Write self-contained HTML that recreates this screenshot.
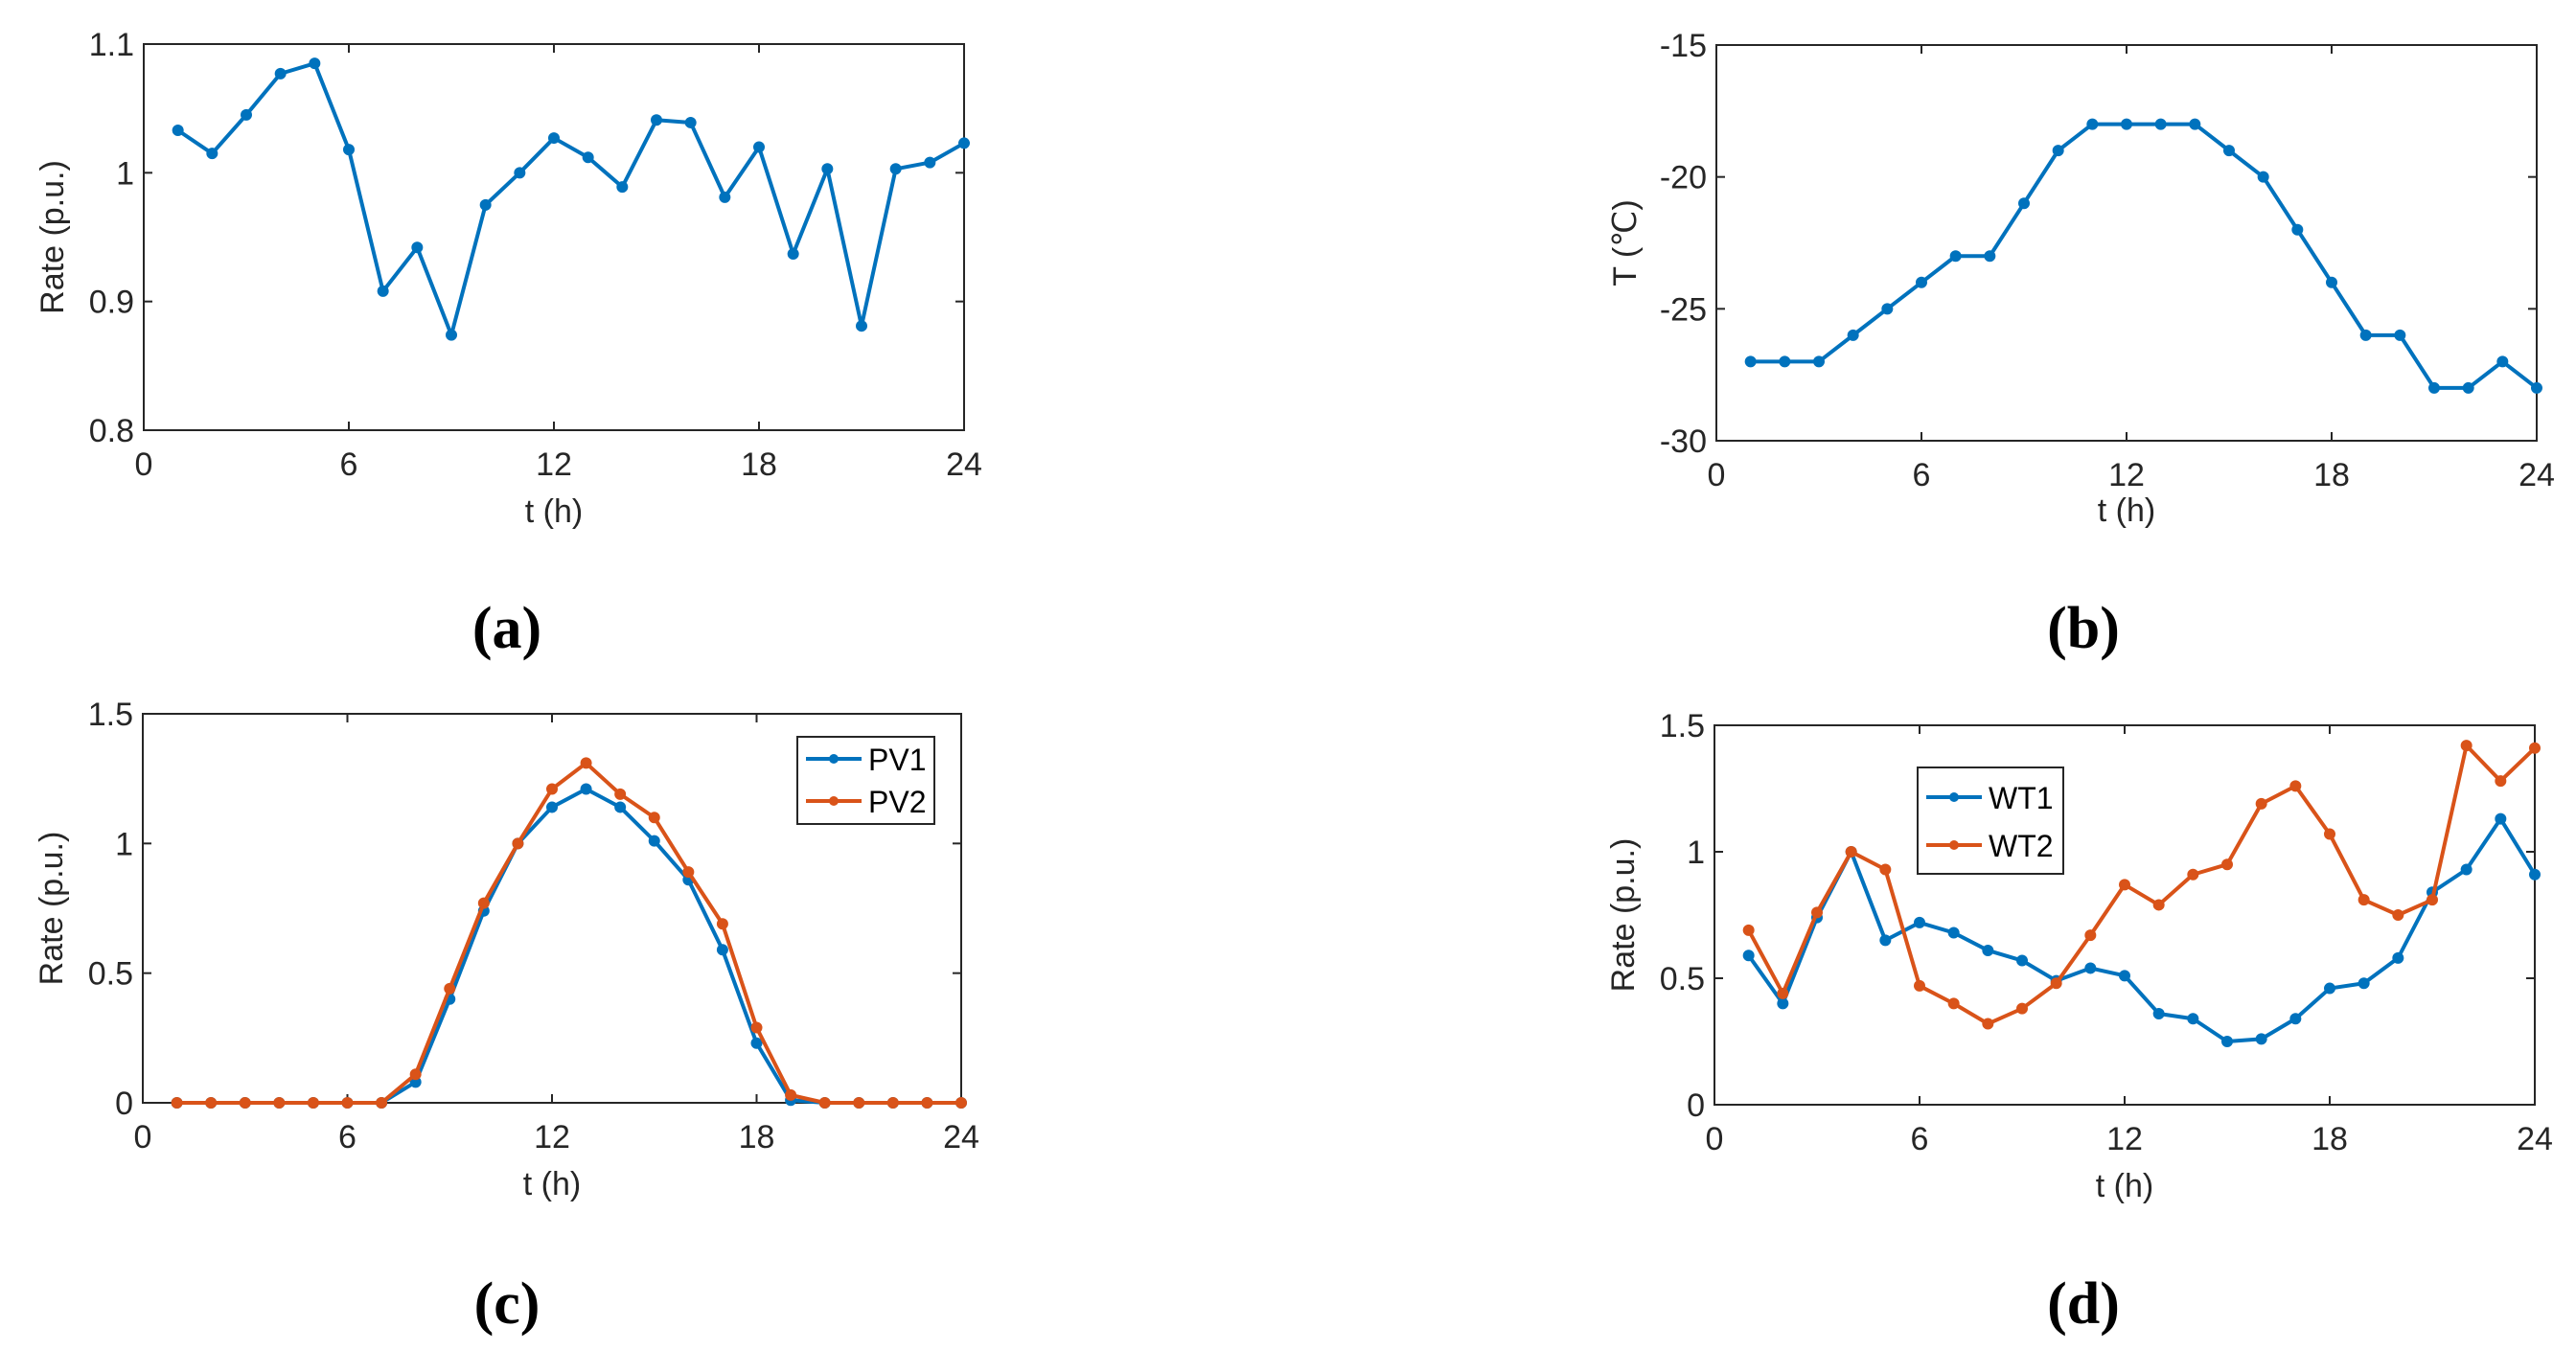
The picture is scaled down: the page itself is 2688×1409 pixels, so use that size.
<!DOCTYPE html>
<html><head><meta charset="utf-8"><style>
html,body{margin:0;padding:0;background:#fff}
svg{display:block}
.tk{font-family:"Liberation Sans Narrow","Liberation Sans",sans-serif;font-size:34px;fill:#262626}
.al{font-family:"Liberation Sans",sans-serif;font-size:34px;fill:#262626}
.sub{font-family:"Liberation Serif",serif;font-size:62px;font-weight:bold;fill:#000}
.lg{font-family:"Liberation Sans Narrow","Liberation Sans",sans-serif;font-size:32px;fill:#000}
</style></head><body>
<svg id="fig" width="2688" height="1409" viewBox="0 0 2688 1409" xmlns="http://www.w3.org/2000/svg"></svg>
<script>
const hours=[1,2,3,4,5,6,7,8,9,10,11,12,13,14,15,16,17,18,19,20,21,22,23,24];
const xTicks=[0,6,12,18,24];
const rateA=[1.033,1.015,1.045,1.077,1.085,1.018,0.908,0.942,0.874,0.975,1.0,1.027,1.012,0.989,1.041,1.039,0.981,1.02,0.937,1.003,0.881,1.003,1.008,1.023];
const yTicksA=[0.8,0.9,1.0,1.1];
const yLabelsA=["0.8","0.9","1","1.1"];
const tempB=[-27,-27,-27,-26,-25,-24,-23,-23,-21,-19,-18,-18,-18,-18,-19,-20,-22,-24,-26,-26,-28,-28,-27,-28];
const yTicksB=[-30,-25,-20,-15];
const yLabelsB=["-30","-25","-20","-15"];
const pv1=[0,0,0,0,0,0,0,0.08,0.4,0.74,1.0,1.14,1.21,1.14,1.01,0.86,0.59,0.23,0.01,0,0,0,0,0];
const pv2=[0,0,0,0,0,0,0,0.11,0.44,0.77,1.0,1.21,1.31,1.19,1.1,0.89,0.69,0.29,0.03,0,0,0,0,0];
const yTicksC=[0,0.5,1,1.5];
const yLabelsC=["0","0.5","1","1.5"];
const wt1=[0.59,0.40,0.74,1.0,0.65,0.72,0.68,0.61,0.57,0.49,0.54,0.51,0.36,0.34,0.25,0.26,0.34,0.46,0.48,0.58,0.84,0.93,1.13,0.91];
const wt2=[0.69,0.44,0.76,1.0,0.93,0.47,0.40,0.32,0.38,0.48,0.67,0.87,0.79,0.91,0.95,1.19,1.26,1.07,0.81,0.75,0.81,1.42,1.28,1.41];
const yTicksD=[0,0.5,1,1.5];
const yLabelsD=["0","0.5","1","1.5"];
const BLUE="#0072BD",ORANGE="#D95319";
const NS="http://www.w3.org/2000/svg";
const svg=document.getElementById('fig');
function mk(tag,attrs,parent,text){const e=document.createElementNS(NS,tag);for(const k in attrs)e.setAttribute(k,attrs[k]);if(text!==undefined)e.textContent=text;(parent||svg).appendChild(e);return e;}

function panel(id,box,ymin,ymax,yTicks,yLabels,yTitle,series,legend,sub,xtOff){
  const g=mk('g',{});
  
  
  const [L,T,R,B]=box;
  const sx=v=>L+(v-0)/(24-0)*(R-L);
  const sy=v=>B-(v-ymin)/(ymax-ymin)*(B-T);
  const frame=mk('rect',{x:L,y:T,width:R-L,height:B-T,fill:'#fff',stroke:'#262626','stroke-width':2},g);
  
  
  xTicks.forEach(t=>{
    const x=sx(t);
    mk('line',{x1:x,y1:B,x2:x,y2:B-9,stroke:'#262626','stroke-width':2},g);
    mk('line',{x1:x,y1:T,x2:x,y2:T+9,stroke:'#262626','stroke-width':2},g);
    const tl=mk('text',{x:x,y:B+47,'text-anchor':'middle',class:'tk'},g,String(t));
    
    
  });
  yTicks.forEach((t,i)=>{
    const y=sy(t);
    mk('line',{x1:L,y1:y,x2:L+9,y2:y,stroke:'#262626','stroke-width':2},g);
    mk('line',{x1:R,y1:y,x2:R-9,y2:y,stroke:'#262626','stroke-width':2},g);
    const tl=mk('text',{x:L-10,y:y+12,'text-anchor':'end',class:'tk'},g,yLabels[i]);
    
    
  });
  const xt=mk('text',{x:(L+R)/2,y:B+xtOff,'text-anchor':'middle',class:'al'},g,'t (h)');
  
  
  const yx=L-84,yy=(T+B)/2;
  const yt=mk('text',{x:yx,y:yy,'text-anchor':'middle',class:'al',transform:`rotate(-90 ${yx} ${yy})`},g,yTitle);
  
  
  series.forEach(s=>{
    const pts=s.data.map((v,i)=>sx(hours[i])+','+sy(v)).join(' ');
    const pl=mk('polyline',{points:pts,fill:'none',stroke:s.color,'stroke-width':4,'stroke-linejoin':'round'},g);
    
    
    s.data.forEach((v,i)=>{
      const c=mk('circle',{cx:sx(hours[i]),cy:sy(v),r:5,fill:s.color,stroke:s.color,'stroke-width':2},g);
      
      
    });
  });
  if(legend){
    const lg=mk('g',{},g);
    
    
    mk('rect',{x:legend.x,y:legend.y,width:legend.w,height:legend.h,fill:'#fff',stroke:'#262626','stroke-width':2},lg);
    series.forEach((s,i)=>{
      const ey=legend.y+legend.first+i*legend.gap;
      const e=mk('g',{},lg);
      
      
      mk('line',{x1:legend.x+9,y1:ey,x2:legend.x+67,y2:ey,stroke:s.color,'stroke-width':4},e);
      mk('circle',{cx:legend.x+38,cy:ey,r:5,fill:s.color},e);
      mk('text',{x:legend.x+74,y:ey+12,class:'lg'},e,s.name);
    });
  }
  const st=mk('text',{x:sub.x,y:sub.y,'text-anchor':'middle',class:'sub'},g,sub.t);
  
  
}

panel('a',[150,46,1006,449],0.8,1.1,yTicksA,yLabelsA,'Rate (p.u.)',
  [{name:'rate',data:rateA,color:BLUE}],null,{x:529,y:676,t:'(a)'},96);
panel('b',[1791,47,2647,460],-30,-15,yTicksB,yLabelsB,'T (℃)',
  [{name:'temperature',data:tempB,color:BLUE}],null,{x:2174,y:676,t:'(b)'},84);
panel('c',[149,745,1003,1151],0,1.5,yTicksC,yLabelsC,'Rate (p.u.)',
  [{name:'PV1',data:pv1,color:BLUE},{name:'PV2',data:pv2,color:ORANGE}],
  {x:832,y:769,w:143,h:91,first:23,gap:44},{x:529,y:1381,t:'(c)'},96);
panel('d',[1789,757,2645,1153],0,1.5,yTicksD,yLabelsD,'Rate (p.u.)',
  [{name:'WT1',data:wt1,color:BLUE},{name:'WT2',data:wt2,color:ORANGE}],
  {x:2001,y:801,w:152,h:111,first:31,gap:50},{x:2174,y:1381,t:'(d)'},96);
</script>
</body></html>
